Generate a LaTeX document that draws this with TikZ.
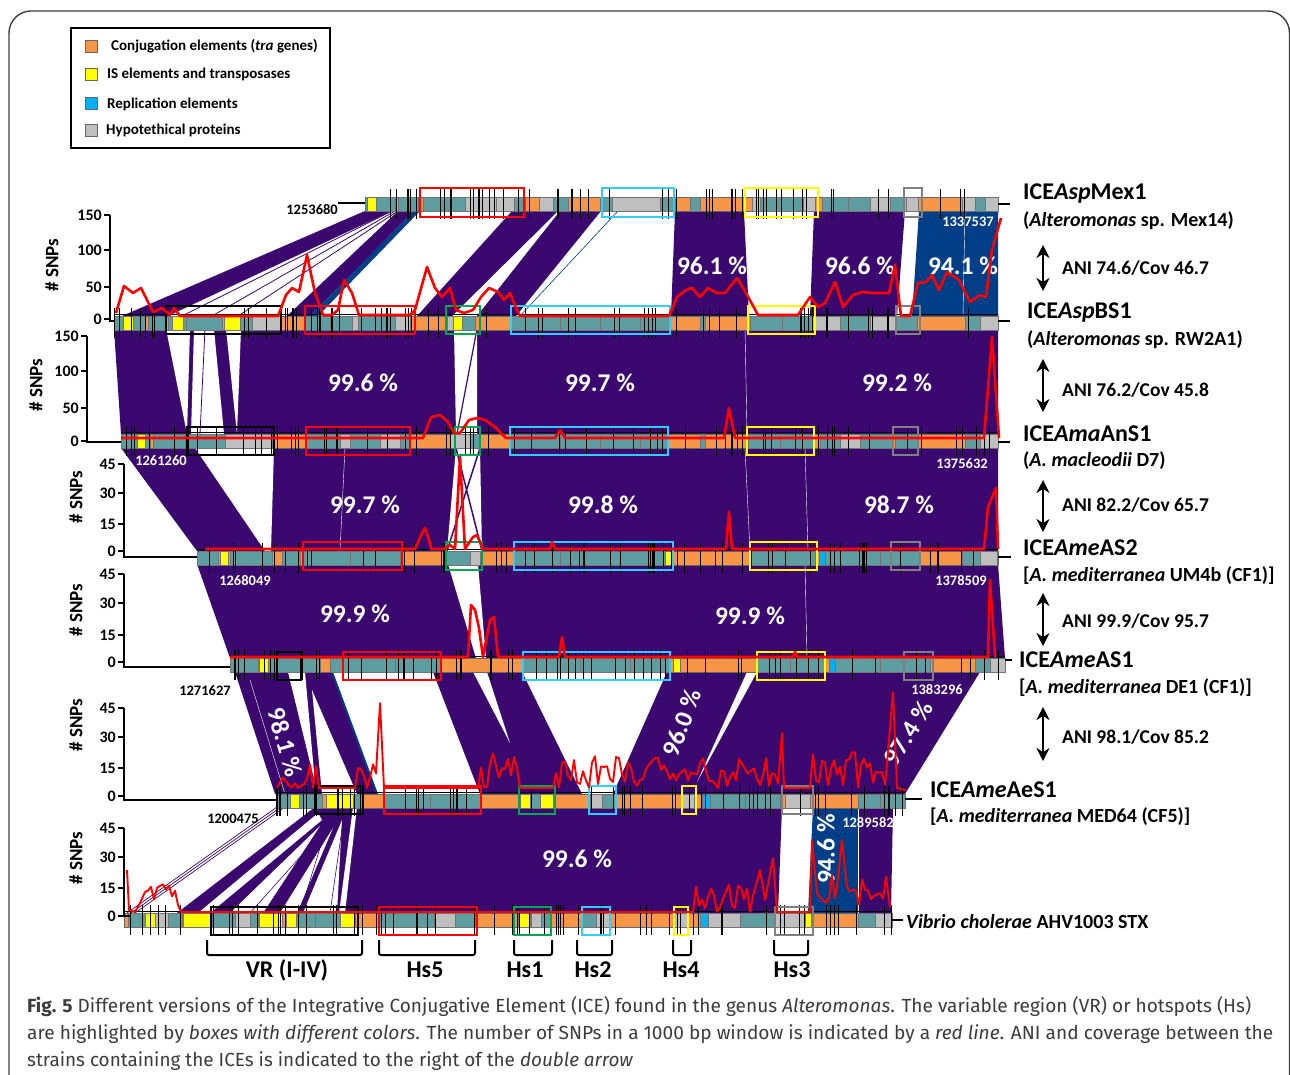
\documentclass[tikz,border=0pt]{standalone}
\usepackage{fontspec}
\usepackage{graphicx}
\setmainfont{Carlito}
\newfontfamily\capfont{Fira Sans}
\usetikzlibrary{arrows.meta}

\definecolor{conj}{RGB}{247,150,70}
\definecolor{genecol}{RGB}{95,158,160}
\definecolor{hypo}{RGB}{191,191,191}
\definecolor{isel}{RGB}{255,255,0}
\definecolor{repl}{RGB}{0,176,240}
\definecolor{ident}{RGB}{58,8,110}
\definecolor{identb}{RGB}{0,63,135}
\definecolor{hsred}{RGB}{255,0,0}
\definecolor{hscyan}{RGB}{51,204,255}
\definecolor{hsgreen}{RGB}{0,166,81}
\definecolor{hsgrey}{RGB}{128,128,128}
\definecolor{snpred}{RGB}{255,0,0}
\definecolor{capgrey}{RGB}{60,60,60}
\newcommand\fs[1]{\fontsize{#1}{#1}\selectfont}

\begin{document}
\begin{tikzpicture}[x=1pt,y=-1pt,
    anidouble/.style={line width=2.6pt,{Stealth[length=13pt,width=13pt]}-{Stealth[length=13pt,width=13pt]}}]
    \tikzstyle{pct} = [text=white,font=\bfseries\fs{25.5},inner sep=0pt]
    \tikzstyle{icename} = [anchor=west,font=\bfseries\fs{24},inner sep=0pt]
    \tikzstyle{host} = [anchor=west,font=\bfseries\fs{20},inner sep=0pt]
    \tikzstyle{ani} = [anchor=west,font=\bfseries\fs{19.5},inner sep=0pt]
    \tikzstyle{coordlab} = [font=\bfseries\fs{14.5},inner sep=0pt]
    \tikzstyle{tlab} = [anchor=east,font=\bfseries\fs{16},inner sep=0pt]
    \tikzstyle{ylab} = [rotate=90,font=\bfseries\fs{19},inner sep=0pt]
    \tikzstyle{hslab} = [font=\bfseries\fs{24},inner sep=0pt]
    \tikzstyle{leg} = [anchor=west,font=\bfseries\fs{15},inner sep=0pt]
    \tikzstyle{legsq} = [draw=black!60,minimum size=12pt,inner sep=0pt]
    \tikzstyle{snp} = [snpred,line width=2.6pt,line join=round]
    \tikzstyle{hs} = [line width=2.2pt]
    \tikzstyle{gtick} = [line width=.6pt]
    \tikzstyle{snpaxis} = [line width=1.6pt]
    \tikzstyle{hsbracket} = [line width=2pt,rounded corners=2pt]
    \pgfmathsetseed{11}
    \clip (0,0) rectangle (1290,1075);
    \fill[white] (0,0) rectangle (1290,1075);
    \draw[black!75,line width=1.4pt,rounded corners=22pt] (9,1120) -- (9,11) -- (1289.5,11) -- (1289.5,1120);
    %%
    %% legend
    \draw[line width=1.6pt] (71,28) rectangle (330,148);
    \node[legsq,fill=conj] (sq1) at (91,46) {};
    \node[legsq,fill=isel] (sq2) at (91,74) {};
    \node[legsq,fill=repl] (sq3) at (91,103) {};
    \node[legsq,fill=hypo] (sq4) at (91,130) {};
    \node[leg] (lg1) at (111,46) {Conjugation elements (\textit{tra} genes)};
    \node[leg] (lg2) at (107,74) {IS elements and transposases};
    \node[leg] (lg3) at (107,104) {Replication elements};
    \node[leg] (lg4) at (106,130) {Hypotethical proteins};
    %%
    %% identity blocks Mex1 / BS1
    \fill[ident] (365,211) -- (392,211) -- (168,316) -- (122,316) -- cycle;
    \draw[ident,line width=.8pt] (392,211) -- (182,316) (395,211) -- (212,316) (398,211) -- (238,316);
    \fill[ident] (398,211) -- (414,211) -- (310,316) -- (287,316) -- cycle;
    \fill[identb] (414,211) -- (420,211) -- (318,316) -- (310,316) -- cycle;
    \fill[ident] (512,211) -- (558,211) -- (452,316) -- (417,316) -- cycle;
    \fill[ident] (560,211) -- (601,211) -- (516,316) -- (477,316) -- cycle;
    \draw[identb,line width=.6pt] (618,211) -- (520,316);
    \fill[ident] (675,211) -- (744,211) -- (749,316) -- (671,316) -- cycle;
    \fill[ident] (814,211) -- (905,211) -- (897,316) -- (810,316) -- cycle;
    \fill[identb] (919,211) -- (998,211) -- (998,316) -- (912,316) -- cycle;
    \draw[white,line width=.4pt] (965,211) -- (963,316);
    %% BS1 / AnS1
    \fill[ident] (114,329) -- (998,329) -- (998,434) -- (121,434) -- cycle;
    \fill[white] (166,329) -- (190,329) -- (187,434) -- cycle;
    \fill[white] (194,329) -- (214,329) -- (224,434) -- (191,434) -- cycle;
    \fill[white] (226,329) -- (241,329) -- (237,434) -- cycle;
    \draw[ident,line width=.8pt] (205,329) -- (200,434);
    \fill[white] (454,329) -- (477,329) -- (477,434) -- (456,434) -- cycle;
    \draw[ident,line width=1.2pt] (477,329) -- (457,434);
    \draw[white,line width=.4pt] (745,329) -- (747,434);
    %% AnS1 / AS2
    \fill[ident] (121,448) -- (998,448) -- (998,551) -- (197,551) -- cycle;
    \fill[white] (195,448) -- (274,448) -- (271,551) -- (265,551) -- cycle;
    \fill[white] (456,448) -- (480,448) -- (482,551) -- (447,551) -- cycle;
    \draw[ident,line width=1.5pt] (456,448) -- (482,551) (480,448) -- (447,551);
    \draw[white,line width=.4pt] (345,448) -- (340,551) (745,448) -- (750,551) (805,448) -- (808,551);
    %% AS2 / AS1
    \fill[ident] (197,564) -- (998,564) -- (1005,658) -- (230,658) -- cycle;
    \fill[white] (448,564) -- (478,564) -- (486,658) -- (476,658) -- cycle;
    \draw[white,line width=.4pt] (805,564) -- (807,658);
    %% AS1 / AeS1
    \fill[ident] (235,672) -- (332,672) -- (377,794) -- (275,794) -- cycle;
    \fill[white] (288,672) -- (305,672) -- (315,783) -- cycle;
    \fill[white] (312,690) -- (357,794) -- (322,794) -- cycle;
    \draw[identb,line width=2pt] (332,672) -- (377,794);
    \draw[white,line width=.4pt] (250,680) -- (285,794);
    \fill[ident] (433,672) -- (522,672) -- (582,794) -- (480,794) -- cycle;
    \fill[white] (473,672) -- (487,672) -- (510,743) -- cycle;
    \fill[ident] (667,672) -- (980,672) -- (905,794) -- (613,794) -- cycle;
    \fill[white] (747,672) -- (757,672) -- (697,782) -- cycle;
    %% AeS1 / Vibrio
    \draw[ident,line width=.7pt] (277,807) -- (127,913) (281,807) -- (131,913) (285,807) -- (135,913);
    \fill[ident] (315,807) -- (782,807) -- (778,913) -- (177,913) -- cycle;
    \fill[white] (318,813) -- (322,820) -- (210,913) -- (198,913) -- cycle;
    \fill[white] (320,826) -- (263,913) -- (230,913) -- cycle;
    \fill[white] (333,828) -- (297,913) -- (280,913) -- cycle;
    \fill[white] (342,820) -- (337,913) -- (303,913) -- cycle;
    \fill[white] (353,807) -- (357,807) -- (345,913) -- (339,913) -- cycle;
    \draw[ident,line width=.6pt] (335,818) -- (250,913) (328,822) -- (300,913) (343,822) -- (330,913);
    \fill[identb] (813,807) -- (858,807) -- (858,913) -- (808,913) -- cycle;
    \fill[ident] (858,807) -- (893,807) -- (891,913) -- (858,913) -- cycle;
    \draw[white,line width=.5pt] (858,807) -- (858,913);
    %%
    %% identity values
    \node[pct] (p1) at (712,266) {96.1 \%};
    \node[pct] (p2) at (860,266) {96.6 \%};
    \node[pct] (p3) at (963,266) {94.1 \%};
    \node[pct] (p4) at (363,383) {99.6 \%};
    \node[pct] (p5) at (600,383) {99.7 \%};
    \node[pct] (p6) at (897,383) {99.2 \%};
    \node[pct] (p7) at (365,505) {99.7 \%};
    \node[pct] (p8) at (603,505) {99.8 \%};
    \node[pct] (p9) at (899,505) {98.7 \%};
    \node[pct] (p10) at (355,614) {99.9 \%};
    \node[pct] (p11) at (750,616) {99.9 \%};
    \node[pct,rotate=-74] (p12) at (285,742) {98.1 \%};
    \node[pct,rotate=69] (p13) at (682,723) {96.0 \%};
    \node[pct,rotate=58] (p14) at (908,733) {97.4 \%};
    \node[pct] (p15) at (577,859) {99.6 \%};
    \node[pct,rotate=90] (p16) at (826,849) {94.6 \%};
    %%
    %% ICEAspMex1
    \begin{scope}[shift={(0,197)}]
      \fill[conj,draw=black!60] (365,0) rectangle (998,14);
      \foreach \a/\b/\c in {365/395/genecol,367/376/isel,398/418/genecol,423/465/genecol,465/496/hypo,
          496/514/hypo,514/525/genecol,539/553/hypo,553/568/genecol,600/612/genecol,612/660/hypo,
          660/675/genecol,690/700/genecol,752/760/hypo,760/803/genecol,803/815/hypo,822/848/genecol,
          848/870/genecol,870/890/hypo,890/904/genecol,906/918/hypo,962/975/hypo,975/985/genecol,985/998/hypo}
        \fill[\c,draw=black!55,line width=.4pt] (\a,0) rectangle (\b,14);
      \foreach \i in {1,...,55} {\pgfmathsetmacro\tx{365+rnd*633}\draw[gtick] (\tx,-8) -- (\tx,22);}
      \draw[hs,hsred] (420,-9) rectangle (524,20);
      \draw[hs,hscyan] (602,-9) rectangle (674,20);
      \draw[hs,isel] (745,-9) rectangle (818,20);
      \draw[hs,hsgrey] (904,-9) rectangle (922,20);
    \end{scope}
    %% ICEAspBS1
    \begin{scope}[shift={(0,316)}]
      \fill[conj,draw=black!60] (114,0) rectangle (998,14);
      \foreach \a/\b/\c in {114/145/genecol,123/133/isel,148/165/genecol,168/200/genecol,172/183/isel,
          186/222/genecol,224/240/isel,240/252/genecol,252/280/hypo,305/330/genecol,330/352/genecol,
          352/358/hypo,358/395/genecol,395/410/hypo,447/453/hypo,453/462/isel,462/475/genecol,
          510/560/genecol,560/600/genecol,600/640/genecol,640/670/genecol,700/705/genecol,750/782/genecol,
          782/812/genecol,812/840/hypo,840/870/genecol,870/895/hypo,896/917/genecol,965/980/genecol,980/998/hypo}
        \fill[\c,draw=black!55,line width=.4pt] (\a,0) rectangle (\b,14);
      \foreach \i in {1,...,70} {\pgfmathsetmacro\tx{114+rnd*884}\draw[gtick] (\tx,-8) -- (\tx,22);}
      \draw[line width=1pt] (114,-2) -- (998,-2);
      \draw[hs] (166,-10) rectangle (281,18);
      \draw[hs,hsred] (305,-10) rectangle (415,18);
      \draw[hs,hsgreen] (446,-10) rectangle (480,18);
      \draw[hs,hscyan] (511,-10) rectangle (670,18);
      \draw[hs,isel] (748,-10) rectangle (815,18);
      \draw[hs,hsgrey] (896,-10) rectangle (920,18);
    \end{scope}
    %% ICEAmaAnS1
    \begin{scope}[shift={(0,434)}]
      \fill[conj,draw=black!60] (121,0) rectangle (998,14);
      \foreach \a/\b/\c in {121/150/genecol,137/145/isel,153/185/genecol,187/225/genecol,225/272/hypo,
          306/340/genecol,340/350/hypo,350/380/genecol,380/400/hypo,400/410/genecol,450/470/hypo,
          470/480/genecol,510/560/genecol,560/600/genecol,600/640/genecol,640/668/genecol,700/705/genecol,
          748/780/genecol,780/813/genecol,820/840/genecol,840/860/hypo,860/893/genecol,895/918/genecol,
          965/980/genecol,980/998/hypo}
        \fill[\c,draw=black!55,line width=.4pt] (\a,0) rectangle (\b,14);
      \foreach \i in {1,...,70} {\pgfmathsetmacro\tx{121+rnd*877}\draw[gtick] (\tx,-8) -- (\tx,22);}
      \draw[line width=1pt] (121,-2) -- (998,-2);
      \draw[hs] (187,-7) rectangle (274,21);
      \draw[hs,hsred] (306,-7) rectangle (410,21);
      \draw[hs,hsgreen] (455,-7) rectangle (480,21);
      \draw[hs,hscyan] (510,-7) rectangle (668,21);
      \draw[hs,isel] (747,-7) rectangle (814,21);
      \draw[hs,hsgrey] (893,-7) rectangle (918,21);
    \end{scope}
    %% ICEAmeAS2
    \begin{scope}[shift={(0,551)}]
      \fill[conj,draw=black!60] (197,0) rectangle (998,14);
      \foreach \a/\b/\c in {197/218/genecol,220/228/isel,230/272/genecol,282/300/genecol,303/350/genecol,
          350/400/genecol,445/470/genecol,470/480/hypo,514/560/genecol,560/620/genecol,620/665/genecol,
          665/672/isel,750/815/genecol,819/825/repl,825/880/genecol,880/920/genecol,962/980/genecol,980/997/hypo}
        \fill[\c,draw=black!55,line width=.4pt] (\a,0) rectangle (\b,14);
      \foreach \i in {1,...,65} {\pgfmathsetmacro\tx{197+rnd*801}\draw[gtick] (\tx,-8) -- (\tx,22);}
      \draw[line width=1pt] (197,-2) -- (998,-2);
      \draw[hs,hsred] (303,-9) rectangle (402,19);
      \draw[hs,hsgreen] (446,-9) rectangle (482,19);
      \draw[hs,hscyan] (514,-9) rectangle (673,19);
      \draw[hs,isel] (750,-9) rectangle (817,19);
      \draw[hs,hsgrey] (891,-9) rectangle (920,19);
    \end{scope}
    %% ICEAmeAS1
    \begin{scope}[shift={(0,658)}]
      \fill[conj,draw=black!60] (230,0) rectangle (1005,14);
      \foreach \a/\b/\c in {230/258/genecol,259/268/isel,268/320/genecol,330/342/genecol,342/395/genecol,
          395/440/genecol,523/580/genecol,580/630/genecol,630/670/genecol,673/680/isel,757/790/genecol,
          790/825/genecol,829/835/repl,835/880/genecol,880/930/genecol,975/990/genecol,990/1005/hypo}
        \fill[\c,draw=black!55,line width=.4pt] (\a,0) rectangle (\b,14);
      \foreach \i in {1,...,65} {\pgfmathsetmacro\tx{230+rnd*775}\draw[gtick] (\tx,-8) -- (\tx,22);}
      \draw[line width=1pt] (230,-2) -- (1005,-2);
      \draw[hs] (277,-6) rectangle (301,22);
      \draw[hs,hsred] (343,-6) rectangle (441,22);
      \draw[hs,hscyan] (523,-6) rectangle (670,22);
      \draw[hs,isel] (757,-6) rectangle (825,22);
      \draw[hs,hsgrey] (904,-6) rectangle (933,22);
    \end{scope}
    %% ICEAmeAeS1
    \begin{scope}[shift={(0,794)}]
      \fill[conj,draw=black!60] (276,0) rectangle (905,14);
      \foreach \a/\b/\c in {276/290/genecol,290/299/isel,299/322/genecol,326/353/isel,353/362/genecol,
          383/430/genecol,430/480/genecol,520/530/isel,530/540/genecol,540/553/isel,590/602/hypo,
          602/615/genecol,681/694/hypo,702/710/repl,710/745/genecol,745/780/genecol,785/810/hypo,
          858/880/genecol,880/905/genecol}
        \fill[\c,draw=black!55,line width=.4pt] (\a,0) rectangle (\b,14);
      \foreach \i in {1,...,60} {\pgfmathsetmacro\tx{276+rnd*629}\draw[gtick] (\tx,-8) -- (\tx,22);}
      \draw[line width=1pt] (276,-2) -- (905,-2);
      \draw[hs] (316,-8) rectangle (363,20);
      \draw[hs,hsred] (384,-8) rectangle (481,20);
      \draw[hs,hsgreen] (519,-8) rectangle (555,20);
      \draw[hs,hscyan] (589,-8) rectangle (616,20);
      \draw[hs,isel] (682,-8) rectangle (696,20);
      \draw[hs,hsgrey] (782,-8) rectangle (813,20);
    \end{scope}
    %% Vibrio cholerae
    \begin{scope}[shift={(0,913)}]
      \fill[conj,draw=black!60] (124,0) rectangle (892,14);
      \foreach \a/\b/\c in {128/145/genecol,145/155/isel,155/168/hypo,168/182/genecol,183/212/isel,
          212/235/genecol,235/250/hypo,250/258/genecol,259/282/isel,286/296/isel,296/315/genecol,
          315/340/genecol,340/355/isel,378/434/genecol,434/455/hypo,455/475/genecol,518/530/isel,
          531/541/hypo,541/551/genecol,582/596/genecol,596/610/hypo,674/688/hypo,700/708/repl,
          708/740/hypo,740/775/genecol,775/805/hypo,805/811/isel,858/875/genecol,875/892/hypo}
        \fill[\c,draw=black!55,line width=.4pt] (\a,0) rectangle (\b,14);
      \foreach \i in {1,...,75} {\pgfmathsetmacro\tx{124+rnd*768}\draw[gtick] (\tx,-8) -- (\tx,22);}
      \draw[line width=1pt] (124,-2) -- (892,-2);
      \draw[hs] (211,-6) rectangle (358,22);
      \draw[hs,hsred] (379,-6) rectangle (477,22);
      \draw[hs,hsgreen] (514,-6) rectangle (551,22);
      \draw[hs,hscyan] (582,-6) rectangle (610,22);
      \draw[hs,isel] (674,-6) rectangle (688,22);
      \draw[hs,hsgrey] (775,-6) rectangle (813,22);
    \end{scope}
    %%
    %% SNP windows
    \draw[snp] (116,313) -- (124,286) -- (133,293) -- (141,288) -- (153,312) -- (162,308) -- (170,315)
      -- (174,308) -- (180,316) -- (278,316) -- (286,295) -- (292,288) -- (299,292) -- (307,255) -- (315,293)
      -- (323,315) -- (332,315) -- (338,310) -- (344,280) -- (352,293) -- (359,315) -- (410,315) -- (415,310)
      -- (427,267) -- (435,288) -- (442,297) -- (450,288) -- (456,310) -- (464,313) -- (473,310) -- (481,297)
      -- (489,288) -- (498,292) -- (504,300) -- (510,293) -- (516,308) -- (520,316) -- (669,316) -- (677,297)
      -- (686,290) -- (692,288) -- (700,297) -- (708,288) -- (717,293) -- (725,293) -- (737,278) -- (746,293)
      -- (758,315) -- (798,315) -- (810,297) -- (818,307) -- (825,303) -- (835,282) -- (843,307) -- (853,295)
      -- (862,292) -- (872,293) -- (889,293) -- (895,265) -- (901,316) -- (910,316) -- (918,283) -- (926,282)
      -- (932,275) -- (939,290) -- (947,272) -- (959,280) -- (970,302) -- (980,295) -- (986,297) -- (992,250)
      -- (1001,218);
    \draw[snp] (121,438) -- (423,438) -- (431,417) -- (440,415) -- (448,422) -- (454,433) -- (460,433)
      -- (469,420) -- (477,418) -- (485,420) -- (495,427) -- (506,438) -- (555,438) -- (560,430) -- (565,438)
      -- (724,438) -- (729,408) -- (735,438) -- (984,438) -- (992,337) -- (999,438);
    \draw[snp] (205,549) -- (415,549) -- (419,540) -- (421,535) -- (425,528) -- (429,540) -- (431,549)
      -- (444,549) -- (450,545) -- (455,549) -- (460,457) -- (465,549) -- (473,537) -- (477,535) -- (483,549)
      -- (550,549) -- (552,542) -- (555,549) -- (726,549) -- (729,512) -- (732,549) -- (984,549) -- (988,507)
      -- (993,495) -- (996,488) -- (998,549);
    \draw[snp] (230,657) -- (468,657) -- (471,605) -- (475,610) -- (479,628) -- (483,657) -- (490,620)
      -- (494,617) -- (498,657) -- (559,657) -- (562,637) -- (565,657) -- (793,657) -- (795,652) -- (797,657)
      -- (988,657) -- (990,580) -- (995,657);
    \draw[snp,line width=1.9pt] (277,788) \foreach \k in {1,...,14} { -- ({277+3*\k},{788-rnd*24}) }
      -- (322,788) -- (355,788) \foreach \k in {1,...,7} { -- ({355+3*\k},{788-rnd*24}) }
      -- (380,703) -- (384,788) -- (478,788) \foreach \k in {1,...,13} { -- ({478+3*\k},{788-rnd*40}) }
      -- (520,788) -- (553,788) \foreach \k in {1,...,75} { -- ({553+3*\k},{788-rnd*32}) }
      -- (782,733) -- (784,788) -- (810,788) \foreach \k in {1,...,26} { -- ({810+3*\k},{788-rnd*38}) }
      -- (893,692) -- (897,788) -- (905,790);
    \draw[snp,line width=1.9pt] (127,870) -- (129,910) -- (135,912) -- (140,903) -- (145,892)
      \foreach \k in {1,...,10} { -- ({145+3*\k},{900-rnd*16}) } -- (178,905) -- (181,912) -- (693,912)
      \foreach \k in {1,...,20} { -- ({693+3*\k},{912-rnd*30}) } -- (760,870) -- (765,900) -- (773,858)
      -- (777,912) -- (810,912) -- (812,840) -- (817,893)
      \foreach \k in {1,...,7} { -- ({817+3*\k},{905-rnd*30}) } -- (842,840) -- (847,887)
      \foreach \k in {1,...,13} { -- ({847+3*\k},{905-rnd*30}) } -- (890,907);
    %%
    %% SNP axes
    \draw[snpaxis] (110,215) -- (110,321) -- (114,321);
    \foreach \v/\y in {150/215,100/250,50/287,0/319} {\draw[snpaxis] (110,\y) -- (104,\y); \node[tlab] (ax1\v) at (102,\y) {\v};}
    \draw[snpaxis] (87,336) -- (87,442) -- (121,442);
    \foreach \v/\y in {150/336,100/371,50/408,0/441} {\draw[snpaxis] (87,\y) -- (81,\y); \node[tlab] (ax2\v) at (79,\y) {\v};}
    \draw[snpaxis] (124,464) -- (124,557) -- (197,557);
    \foreach \v/\y in {45/464,30/493,15/524,0/551} {\draw[snpaxis] (124,\y) -- (118,\y); \node[tlab] (ax3\v) at (116,\y) {\v};}
    \draw[snpaxis] (124,574) -- (124,667) -- (230,667);
    \foreach \v/\y in {45/574,30/603,15/635,0/662} {\draw[snpaxis] (124,\y) -- (118,\y); \node[tlab] (ax4\v) at (116,\y) {\v};}
    \draw[snpaxis] (124,708) -- (124,800) -- (276,800);
    \foreach \v/\y in {45/708,30/737,15/768,0/796} {\draw[snpaxis] (124,\y) -- (118,\y); \node[tlab] (ax5\v) at (116,\y) {\v};}
    \draw[snpaxis] (124,828) -- (124,916) -- (130,916);
    \foreach \v/\y in {45/828,30/857,15/888,0/916} {\draw[snpaxis] (124,\y) -- (118,\y); \node[tlab] (ax6\v) at (116,\y) {\v};}
    \node[ylab] (yl1) at (52,265) {\# SNPs};
    \node[ylab] (yl2) at (36,385) {\# SNPs};
    \node[ylab] (yl3) at (76,497) {\# SNPs};
    \node[ylab] (yl4) at (76,610) {\# SNPs};
    \node[ylab] (yl5) at (76,725) {\# SNPs};
    \node[ylab] (yl6) at (76,858) {\# SNPs};
    %%
    %% coordinates of the elements
    \draw[line width=1.6pt] (338,203) -- (365,203);
    \node[coordlab,anchor=east] (c1l) at (338,210) {1253680};
    \node[coordlab,text=white] (c1r) at (968,222) {1337537};
    \node[coordlab,text=white] (c3l) at (161,461) {1261260};
    \node[coordlab,text=white] (c3r) at (962,464) {1375632};
    \node[coordlab,text=white] (c4l) at (245,581) {1268049};
    \node[coordlab,text=white] (c4r) at (961,581) {1378509};
    \node[coordlab] (c5l) at (205,691) {1271627};
    \node[coordlab,text=white] (c5r) at (937,690) {1383296};
    \node[coordlab] (c6l) at (233,819) {1200475};
    \node[coordlab,text=white] (c6r) at (868,823) {1289582};
    %%
    %% element names
    \foreach \x/\y/\xe in {998/204/1010,998/321/1010,998/442/1010,998/557/1011,1005/660/1012,905/799/922,892/920/903}
      \draw[line width=1.6pt] (\x,\y) -- (\xe,\y);
    \node[icename] (n1) at (1023,194) {ICE\textit{Asp}Mex1};
    \node[host] (h1) at (1023,221) {(\textit{Alteromonas} sp. Mex14)};
    \node[icename] (n2) at (1027,313) {ICE\textit{Asp}BS1};
    \node[host] (h2) at (1027,340) {(\textit{Alteromonas} sp. RW2A1)};
    \node[icename] (n3) at (1023,434) {ICE\textit{Ama}AnS1};
    \node[host] (h3) at (1023,461) {(\textit{A. macleodii} D7)};
    \node[icename] (n4) at (1023,548) {ICE\textit{Ame}AS2};
    \node[host] (h4) at (1023,576) {[\textit{A. mediterranea} UM4b (CF1)]};
    \node[icename] (n5) at (1019,660) {ICE\textit{Ame}AS1};
    \node[host] (h5) at (1019,688) {[\textit{A. mediterranea} DE1 (CF1)]};
    \node[icename] (n6) at (930,790) {ICE\textit{Ame}AeS1};
    \node[host] (h6) at (930,817) {[\textit{A. mediterranea} MED64 (CF5)]};
    \node[host] (n7) at (906,922) {\textit{Vibrio cholerae} AHV1003 STX};
    %%
    %% ANI and coverage
    \coordinate (ar1t) at (1043,245); \coordinate (ar1b) at (1043,291);
    \coordinate (ar2t) at (1043,359); \coordinate (ar2b) at (1043,412);
    \coordinate (ar3t) at (1043,480); \coordinate (ar3b) at (1043,532);
    \coordinate (ar4t) at (1043,593); \coordinate (ar4b) at (1043,646);
    \coordinate (ar5t) at (1043,707); \coordinate (ar5b) at (1043,761);
    \foreach \k in {1,...,5} \draw[anidouble] (ar\k t) -- (ar\k b);
    \node[ani] (ani1) at (1062,268) {ANI 74.6/Cov 46.7};
    \node[ani] (ani2) at (1062,390) {ANI 76.2/Cov 45.8};
    \node[ani] (ani3) at (1062,505) {ANI 82.2/Cov 65.7};
    \node[ani] (ani4) at (1062,621) {ANI 99.9/Cov 95.7};
    \node[ani] (ani5) at (1062,737) {ANI 98.1/Cov 85.2};
    %%
    %% variable region and hotspots
    \foreach \a/\b in {207/362,379/475,514/552,577/612,673/691,774/808}
      \draw[hsbracket] (\a,940) -- (\a,955) -- (\b,955) -- (\b,940);
    \node[hslab] (vr) at (287,970) {VR (I-IV)};
    \node[hslab] (hs5) at (425,970) {Hs5};
    \node[hslab] (hs1) at (525,970) {Hs1};
    \node[hslab] (hs2) at (593,970) {Hs2};
    \node[hslab] (hs4) at (681,970) {Hs4};
    \node[hslab] (hs3) at (792,970) {Hs3};
    %%
    %% caption
    \begin{scope}[every node/.style={anchor=west,inner sep=0pt,text=capgrey,font=\capfont\fs{19}}]
      \node (cap1) at (27,1007) {\resizebox{1224pt}{\height}{\textbf{Fig. 5} Different versions of the Integrative Conjugative Element (ICE) found in the genus \textit{Alteromonas}. The variable region (VR) or hotspots (Hs)}};
      \node (cap2) at (27,1034) {\resizebox{1246pt}{\height}{are highlighted by \textit{boxes with different colors}. The number of SNPs in a 1000 bp window is indicated by a \textit{red line}. ANI and coverage between the}};
      \node (cap3) at (27,1061) {\resizebox{606pt}{\height}{strains containing the ICEs is indicated to the right of the \textit{double arrow}}};
    \end{scope}
  \end{tikzpicture}
\end{document}
